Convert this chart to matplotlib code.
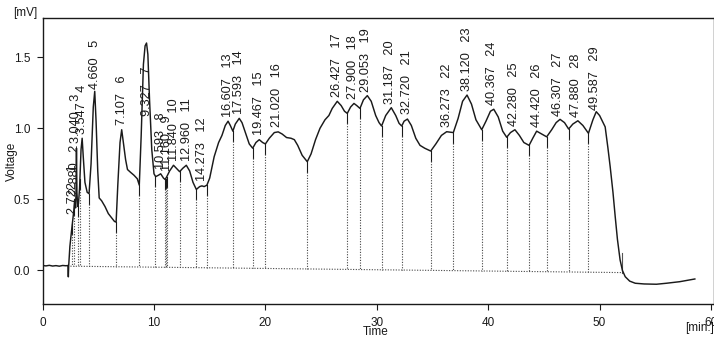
import numpy as np
import matplotlib
matplotlib.use("Agg")
import matplotlib.pyplot as plt

plt.rcParams['font.family'] = ['Liberation Sans', 'DejaVu Sans']

# Detector trace: time [min] and signal [mV]
trace_t = [0.0, 0.3, 0.6, 0.9, 1.2, 1.5, 1.8, 2.1, 2.28, 2.31, 2.34, 2.45, 2.6,
           2.72, 2.8, 2.88, 2.96, 3.0, 3.04, 3.08, 3.15, 3.22, 3.32, 3.45, 3.55,
           3.65, 3.8, 4.0, 4.17, 4.35, 4.55, 4.68, 4.8, 4.95, 5.08, 5.3, 5.6,
           5.9, 6.2, 6.45, 6.6, 6.75, 6.95, 7.1, 7.25, 7.45, 7.62, 7.9, 8.2, 8.5,
           8.68, 8.85, 9.05, 9.2, 9.33, 9.45, 9.6, 9.8, 10.0, 10.15, 10.4, 10.6,
           10.85, 11.0, 11.15, 11.4, 11.75, 12.0, 12.3, 12.6, 12.9, 13.2, 13.5,
           13.8, 14.1, 14.3, 14.5, 14.75, 15.0, 15.4, 15.8, 16.1, 16.4, 16.65,
           16.85, 17.08, 17.3, 17.65, 17.9, 18.2, 18.55, 18.86, 19.15, 19.45,
           19.75, 20.0, 20.35, 20.8, 21.15, 21.5, 21.9, 22.3, 22.6, 22.9, 23.3,
           23.76, 24.1, 24.5, 24.9, 25.35, 25.7, 26.0, 26.45, 26.8, 27.1, 27.35,
           27.65, 27.95, 28.2, 28.49, 28.8, 29.15, 29.5, 29.9, 30.2, 30.43, 30.8,
           31.3, 31.7, 32.0, 32.24, 32.45, 32.75, 33.1, 33.5, 33.88, 34.3, 34.84,
           35.3, 35.8, 36.27, 36.87, 37.3, 37.7, 38.1, 38.5, 38.9, 39.42, 39.8,
           40.2, 40.5, 40.9, 41.3, 41.66, 42.0, 42.4, 42.8, 43.2, 43.67, 44.0,
           44.35, 44.8, 45.25, 45.7, 46.1, 46.45, 46.85, 47.22, 47.6, 48.05, 48.5,
           49.0, 49.4, 49.7, 50.0, 50.25, 50.5, 50.75, 50.95, 51.2, 51.4, 51.6,
           51.84, 52.05, 52.3, 52.7, 53.2, 54.0, 55.1, 56.0, 57.2, 58.0, 58.55]
trace_v = [0.035, 0.032, 0.036, 0.031, 0.034, 0.030, 0.035, 0.033, 0.035, -0.045,
           0.03, 0.17, 0.28, 0.36, 0.42, 0.50, 0.44, 0.55, 0.86, 0.55, 0.45, 0.47,
           0.58, 0.85, 0.93, 0.80, 0.62, 0.55, 0.54, 0.75, 1.15, 1.26, 1.05, 0.70,
           0.51, 0.49, 0.45, 0.40, 0.37, 0.345, 0.34, 0.60, 0.90, 0.99, 0.90, 0.78,
           0.71, 0.69, 0.67, 0.645, 0.60, 0.95, 1.45, 1.58, 1.60, 1.52, 1.20, 0.85,
           0.68, 0.66, 0.67, 0.68, 0.65, 0.64, 0.66, 0.70, 0.74, 0.72, 0.695, 0.72,
           0.74, 0.70, 0.62, 0.57, 0.59, 0.595, 0.59, 0.60, 0.65, 0.80, 0.90, 0.95,
           1.02, 1.05, 1.02, 0.98, 1.03, 1.07, 1.04, 0.97, 0.89, 0.86, 0.90, 0.92,
           0.90, 0.89, 0.93, 0.97, 0.975, 0.96, 0.935, 0.93, 0.92, 0.88, 0.81,
           0.765, 0.82, 0.92, 1.00, 1.06, 1.09, 1.14, 1.19, 1.16, 1.12, 1.105,
           1.15, 1.175, 1.16, 1.14, 1.20, 1.23, 1.19, 1.09, 1.04, 1.016, 1.09,
           1.145, 1.09, 1.035, 1.016, 1.05, 1.065, 1.02, 0.93, 0.88, 0.86, 0.84,
           0.89, 0.95, 0.976, 0.97, 1.07, 1.19, 1.234, 1.17, 1.06, 0.99, 1.05,
           1.12, 1.134, 1.08, 0.98, 0.937, 0.97, 0.99, 0.95, 0.90, 0.88, 0.93,
           0.98, 0.96, 0.94, 0.99, 1.04, 1.063, 1.04, 0.995, 1.03, 1.053, 1.02,
           0.965, 1.06, 1.117, 1.09, 1.05, 1.01, 0.86, 0.73, 0.55, 0.38, 0.22,
           0.074, 0.0, -0.044, -0.075, -0.09, -0.095, -0.097, -0.09, -0.079,
           -0.068, -0.06]

# Integrated peaks: retention times and peak numbers
peak_rt = [2.722, 2.880, 3.040, 3.547, 4.660, 7.107, 9.327, 10.593, 11.160,
           11.840, 12.960, 14.273, 16.607, 17.593, 19.467, 21.020, 26.427,
           27.900, 29.053, 31.187, 32.720, 36.273, 38.120, 40.367, 42.280,
           44.420, 46.307, 47.880, 49.587]
peak_no = list(range(1, 30))

# Peak boundaries (start/end of integration)
bounds = [2.67, 2.84, 3.15, 3.35, 4.17, 6.59, 8.68, 10.12, 10.97, 11.05, 11.15,
          12.33, 13.78, 14.73, 17.08, 18.86, 20.0, 23.76, 27.35, 28.49, 30.43,
          32.24, 34.84, 36.87, 39.42, 41.66, 43.67, 45.25, 47.22, 49.0]
base_start, base_end = (2.5, 0.03), (52.0, -0.015)

fig = plt.figure(figsize=(7.14, 3.41), dpi=100)
ax = fig.add_axes([42.6 / 714, 1 - 304 / 341, (714 - 42.6) / 714, (304 - 18) / 341])
ax.set_xlim(0, 60.27)
ax.set_ylim(-0.236, 1.776)

ink = '#1a1a1a'
dot = (0, (1, 1.4))

# baseline of integration
ax.plot([base_start[0], base_end[0]], [base_start[1], base_end[1]],
        color='#444444', lw=0.8, ls=dot)


def baseline_at(t):
    return np.interp(t, [base_start[0], base_end[0]], [base_start[1], base_end[1]])


# drop lines at peak boundaries
for b in bounds:
    top = np.interp(b, trace_t, trace_v)
    mid = top - 0.07
    ax.plot([b, b], [top, mid], color=ink, lw=0.8)
    ax.plot([b, b], [mid, baseline_at(b)], color='#444444', lw=0.8, ls=dot)
# end-of-run marker
ax.plot([base_end[0], base_end[0]], [base_end[1], 0.12], color='#555555', lw=0.8)

# chromatogram trace
ax.plot(trace_t, trace_v, color=ink, lw=1.05)

# peak annotations
for rt, n in zip(peak_rt, peak_no):
    apex = np.interp(rt, trace_t, trace_v)
    y = apex + 0.035 if apex < 1.4 else 1.09
    ax.text(rt, y, f"{rt:.3f}   {n}", rotation=90, ha='center', va='bottom',
            fontsize=9.2, color=ink)

ax.set_xticks([0, 10, 20, 30, 40, 50, 60])
ax.set_yticks([0.0, 0.5, 1.0, 1.5])
ax.set_yticklabels(['0.0', '0.5', '1.0', '1.5'])
ax.tick_params(direction='out', length=4, width=0.8, labelsize=8.5, colors=ink, pad=5)
for s in ax.spines.values():
    s.set_linewidth(1.0)
    s.set_color(ink)

fig.text(12 / 714, 1 - 161 / 341, 'Voltage', fontsize=8.5, rotation=90,
         ha='center', va='center', color=ink)
fig.text(376 / 714, 1 - 332 / 341, 'Time', fontsize=8.5, ha='center', va='center',
         color=ink)
fig.text(25 / 714, 1 - 13 / 341, '[mV]', fontsize=8.5, ha='center', va='center', color=ink)
fig.text(700 / 714, 1 - 328 / 341, '[min.]', fontsize=8.5, ha='center', va='center', color=ink)

fig.savefig('out.png', dpi=100)
